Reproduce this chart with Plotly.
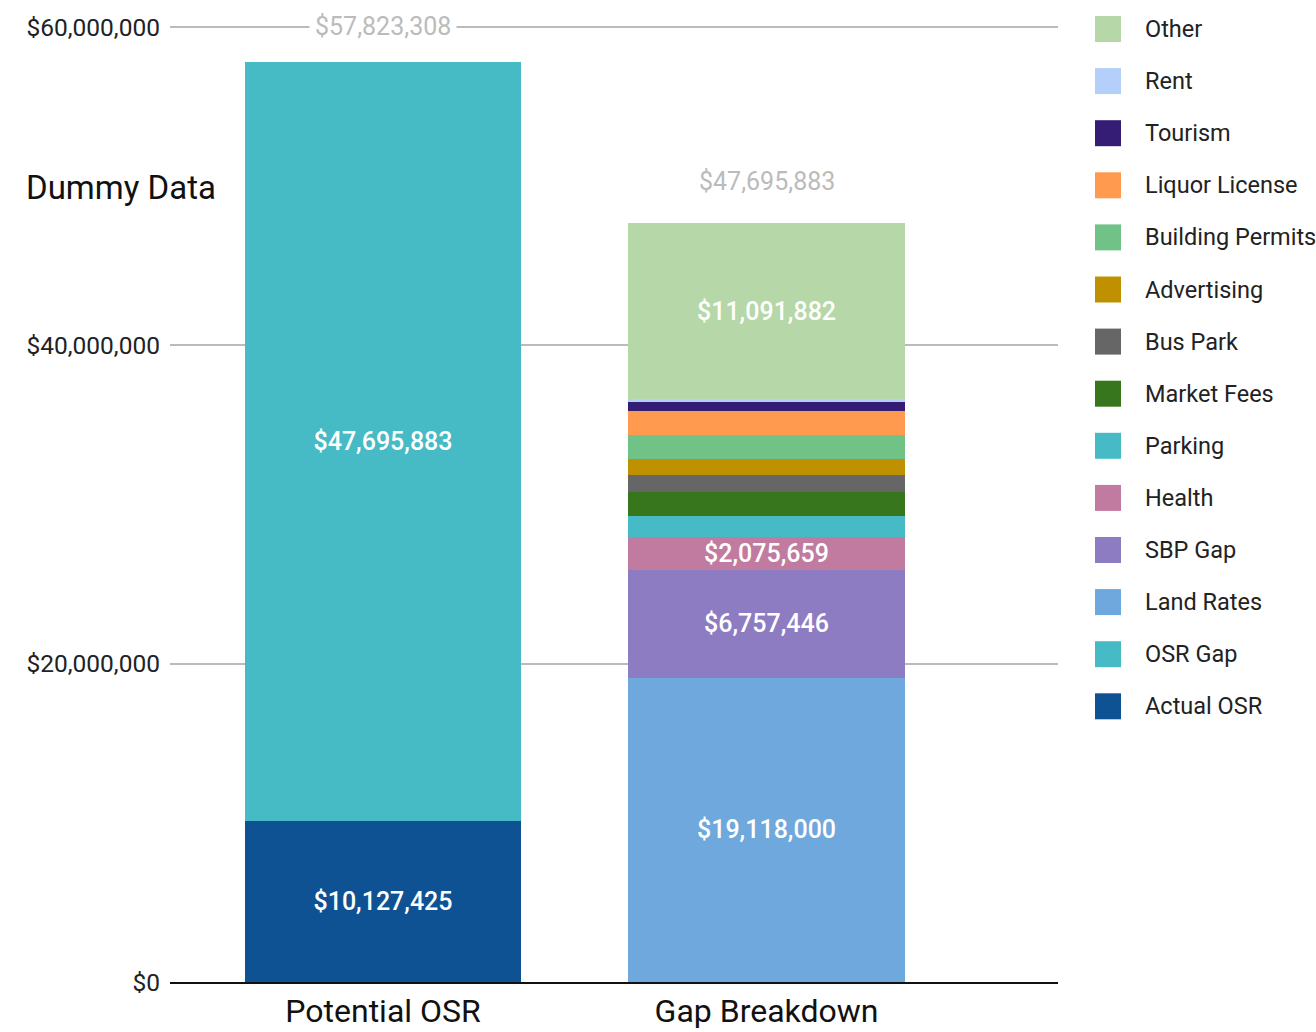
import plotly.graph_objects as go

# ---------------- data ----------------
categories = ["Potential OSR", "Gap Breakdown"]
series_names = ["Actual OSR", "OSR Gap", "Land Rates", "SBP Gap", "Health", "Parking",
                "Market Fees", "Bus Park", "Advertising", "Building Permits",
                "Liquor License", "Tourism", "Rent", "Other"]
potential_values = [10127425, 47695883, 0, 0, 0, 0, 0, 0, 0, 0, 0, 0, 0, 0]
gap_values = [0, 0, 19118000, 6757446, 2075659, 1320000, 1510000, 1070000,
              1000000, 1510000, 1510000, 570000, 162896, 11091882]
show_label = [True, True, True, True, True, False, False, False, False, False,
              False, False, False, True]
series_colors = ["#0F5294", "#46BBC6", "#6FA8DC", "#8E7CC3", "#C27BA0", "#46BBC6",
                 "#38761D", "#666666", "#BF9000", "#71C287", "#FF9A4E", "#351C75",
                 "#B4CFFA", "#B6D7A8"]
totals = [57823308, 47695883]
y_tick_vals = [0, 20000000, 40000000, 60000000]
chart_note = "Dummy Data"

# ---------------- layout constants (pixels) ----------------
W, H = 1316, 1032
PL, PR = 170, 1058          # plot area x extent
PT, PB = 19, 982            # plot area y extent
Y_MAX = 60500000
FONT = "Roboto"

fig = go.Figure()
for i, name in enumerate(series_names):
    vals = [potential_values[i], gap_values[i]]
    texts = [(f"${v:,}" if (show_label[i] and v > 0) else "") for v in vals]
    fig.add_trace(go.Bar(
        x=categories, y=vals, name=name,
        marker=dict(color=series_colors[i], line=dict(width=0)),
        text=texts, textposition="inside", insidetextanchor="middle",
        textangle=0, constraintext="none",
        textfont=dict(color="white", size=25, family=FONT, weight=500),
        showlegend=False, hoverinfo="name+y",
    ))

# total labels above bars
fig.add_annotation(x=categories[0], y=y_tick_vals[-1], text=f"${totals[0]:,}",
                   showarrow=False, bgcolor="white", borderpad=5,
                   font=dict(size=25, color="#BBBBBB", family=FONT))
fig.add_annotation(x=categories[1], y=totals[1], yshift=41, text=f"${totals[1]:,}",
                   showarrow=False,
                   font=dict(size=25, color="#BBBBBB", family=FONT))

# chart note
fig.add_annotation(xref="paper", yref="paper",
                   x=(24 - PL) / (PR - PL), y=(PB - 187) / (PB - PT),
                   xanchor="left", yanchor="middle", text=chart_note, showarrow=False,
                   font=dict(size=33, color="#111111", family=FONT))

# custom legend (top to bottom: reversed series order)
def px_x(px):
    return (px - PL) / (PR - PL)

def px_y(py):
    return (PB - py) / (PB - PT)

for k, i in enumerate(reversed(range(len(series_names)))):
    cy = 29 + k * 52.1
    fig.add_shape(type="rect", xref="paper", yref="paper",
                  x0=px_x(1095), x1=px_x(1121), y0=px_y(cy - 13), y1=px_y(cy + 13),
                  fillcolor=series_colors[i], line=dict(width=0))
    fig.add_annotation(xref="paper", yref="paper", x=px_x(1143), y=px_y(cy),
                       xanchor="left", yanchor="middle", text=series_names[i],
                       showarrow=False,
                       font=dict(size=23.5, color="#222222", family=FONT))

fig.update_layout(
    width=W, height=H,
    margin=dict(l=PL, r=W - PR, t=PT, b=H - PB, autoexpand=False),
    barmode="stack", bargap=0.28,
    plot_bgcolor="white", paper_bgcolor="white",
    showlegend=False,
    font=dict(family=FONT),
    xaxis=dict(range=[-0.5554, 1.760], showgrid=False, showline=True,
               linecolor="#111111", linewidth=2, layer="above traces",
               tickfont=dict(size=32, color="#111111", family=FONT),
               ticks="", ticklabelstandoff=0, automargin=False),
    yaxis=dict(range=[0, Y_MAX], tickvals=y_tick_vals, tickformat="$,.0f",
               showgrid=True, gridcolor="#BBBBBB", gridwidth=2, zeroline=False,
               tickfont=dict(size=24.5, color="#222222", family=FONT),
               ticks="", ticklabelstandoff=9, automargin=False),
)

fig.write_html("out.html")
